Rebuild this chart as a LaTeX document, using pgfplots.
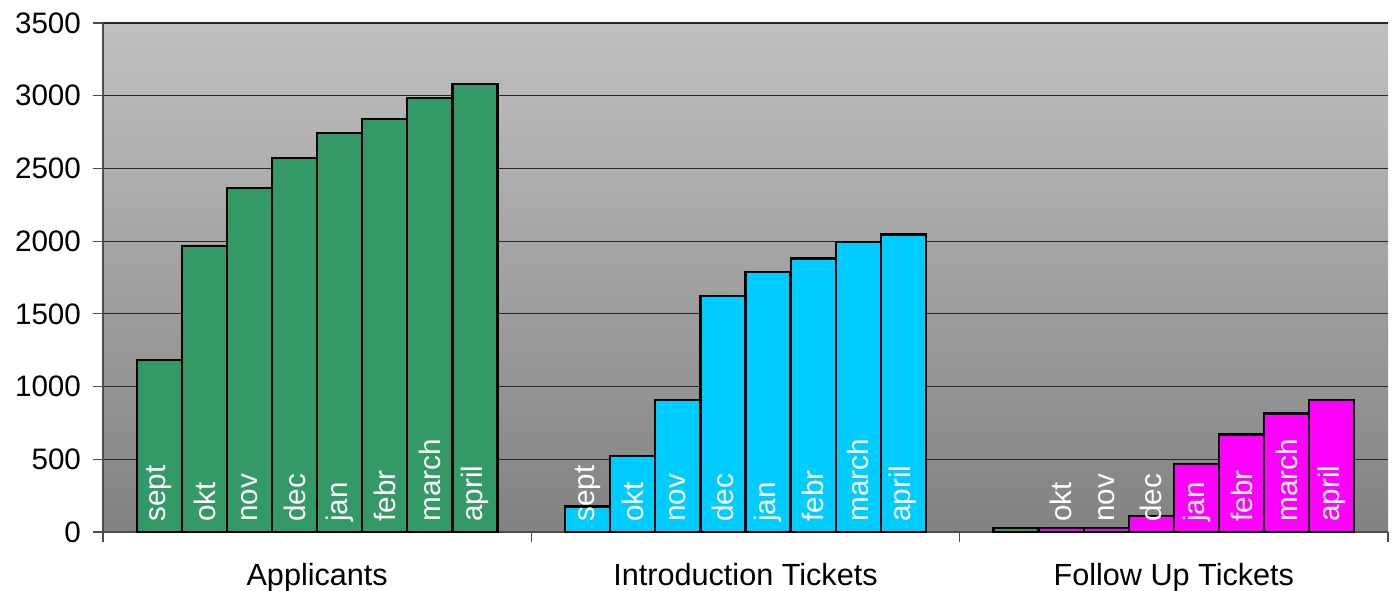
\documentclass[border=0pt]{standalone}
\usepackage{pgfplots}
\pgfplotsset{compat=1.18}
\usepackage{fontspec}
\setmainfont{Liberation Sans}

\definecolor{appgreen}{HTML}{339966}
\definecolor{introcyan}{HTML}{00CCFF}
\definecolor{followmag}{HTML}{FF00FF}
\definecolor{bgtop}{HTML}{C0C0C0}
\definecolor{bgbot}{HTML}{828282}

\newcommand{\chartfont}{\fontsize{14.8}{17}\selectfont}
\newcommand{\catfont}{\fontsize{15.3}{18}\selectfont}

\begin{document}
\begin{tikzpicture}
\begin{axis}[
    name=ax,
    scale only axis,
    width=642.5pt, height=254.5pt,
    xmin=-0.5, xmax=2.5,
    ymin=0, ymax=3500,
    axis x line*=bottom, axis y line*=left,
    axis line style={draw=black!70, line width=0.6pt},
    xtick={-0.5,0.5,1.5,2.5}, xticklabels={},
    extra x ticks={0,1,2},
    extra x tick labels={Applicants,Introduction Tickets,Follow Up Tickets},
    extra x tick style={major tick length=0pt, grid=none,
        xticklabel style={font=\catfont, yshift=-12pt}},
    ytick={0,500,...,3500},
    yticklabel style={xshift=-2.5pt},
    ymajorgrids,
    grid style={black!85, line width=0.6pt},
    tick align=outside,
    major tick length=5pt,
    tick style={black!70, line width=0.6pt},
    tick label style={font=\chartfont},
    /pgf/number format/assume math mode=true,
    /pgf/number format/1000 sep={},
    axis background/.style={top color=bgtop, bottom color=bgbot},
    bar width=0.10526,
]
% Applicants (the sept bar of Follow Up Tickets is green as well)
\addplot[ybar, bar shift=0pt, fill=appgreen, draw=black, line width=1.1pt] coordinates {
    (-0.3684,1180) (-0.2632,1965) (-0.1579,2365) (-0.0526,2570)
    (0.0526,2745) (0.1579,2840) (0.2632,2985) (0.3684,3080)
    (1.6316,30)
};
% Introduction Tickets
\addplot[ybar, bar shift=0pt, fill=introcyan, draw=black, line width=1.1pt] coordinates {
    (0.6316,175) (0.7368,525) (0.8421,910) (0.9474,1625)
    (1.0526,1790) (1.1579,1880) (1.2632,1995) (1.3684,2045)
};
% Follow Up Tickets
\addplot[ybar, bar shift=0pt, fill=followmag, draw=black, line width=1.1pt] coordinates {
    (1.7368,30) (1.8421,30) (1.9474,110)
    (2.0526,465) (2.1579,670) (2.2632,815) (2.3684,910)
};
% month names inside the bars
\addplot[draw=none, mark=none, nodes near coords, point meta=explicit symbolic,
    every node near coord/.append style={rotate=90, anchor=west, text=white,
        font=\chartfont, inner xsep=5pt, inner ysep=0pt}]
    table[row sep=\\, meta=label] {
    x y label\\
    -0.3684 0 sept\\ -0.2632 0 okt\\ -0.1579 0 nov\\ -0.0526 0 dec\\
    0.0526 0 jan\\ 0.1579 0 febr\\ 0.2632 0 march\\ 0.3684 0 april\\
    0.6316 0 sept\\ 0.7368 0 okt\\ 0.8421 0 nov\\ 0.9474 0 dec\\
    1.0526 0 jan\\ 1.1579 0 febr\\ 1.2632 0 march\\ 1.3684 0 april\\
    1.7368 0 okt\\ 1.8421 0 nov\\ 1.9474 0 dec\\
    2.0526 0 jan\\ 2.1579 0 febr\\ 2.2632 0 march\\ 2.3684 0 april\\
};
\end{axis}
\pgfresetboundingbox
\path ([xshift=-51.5pt,yshift=-29pt]ax.south west) rectangle ([xshift=3.5pt,yshift=11.5pt]ax.north east);
\end{tikzpicture}
\end{document}
